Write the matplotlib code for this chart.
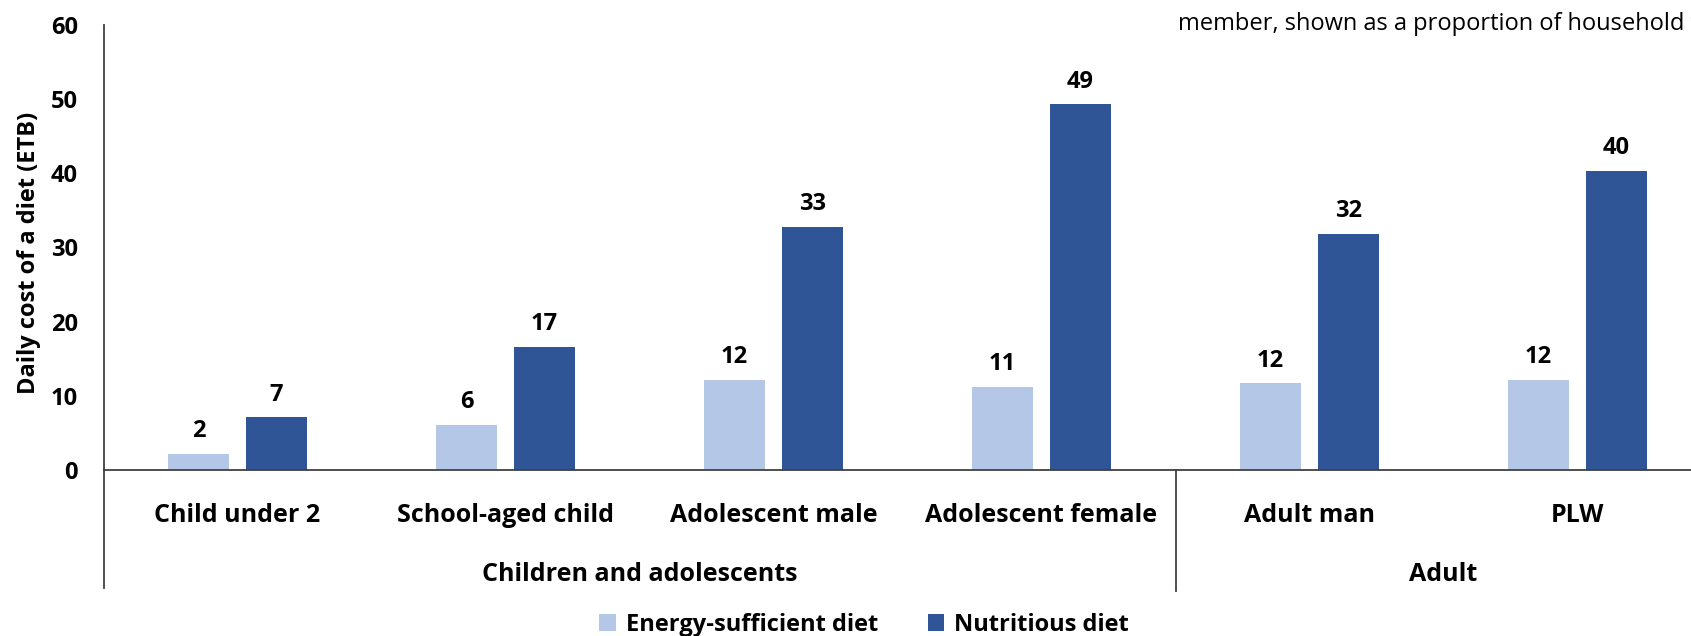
import matplotlib.pyplot as plt
import matplotlib.transforms as mtransforms
import numpy as np

categories = ['Child under 2', 'School-aged child', 'Adolescent male',
              'Adolescent female', 'Adult man', 'PLW']
groups = ['Children and adolescents', 'Adult']
group_sizes = [4, 2]
energy = [2.2, 6.1, 12.2, 11.2, 11.7, 12.2]
nutritious = [7.1, 16.6, 32.8, 49.3, 31.8, 40.3]
series_names = ['Energy-sufficient diet', 'Nutritious diet']
yticks = [0, 10, 20, 30, 40, 50, 60]

c_light = '#B4C7E7'
c_dark = '#2F5597'
line_c = '#404040'
fnt = 'Open Sans'

W, H = 1691, 636
fig = plt.figure(figsize=(W / 100, H / 100), dpi=100)
ax = fig.add_axes([103.5 / W, (H - 470) / H, 1608 / W, 445 / H])

x = np.arange(len(categories))
w = 0.225
off = 0.145
b1 = ax.bar(x - off, energy, w, color=c_light, label=series_names[0])
b2 = ax.bar(x + off, nutritious, w, color=c_dark, label=series_names[1])

for bars, vals in ((b1, energy), (b2, nutritious)):
    for r, v in zip(bars, vals):
        ax.annotate(f'{v:.0f}', (r.get_x() + r.get_width() / 2, v),
                    xytext=(0, 12), textcoords='offset points',
                    ha='center', va='baseline', fontsize=17,
                    fontweight='bold', family=fnt)

ax.set_xlim(-0.5, len(categories) - 0.5)
ax.set_ylim(0, 60)
ax.set_yticks(yticks)
ax.tick_params(axis='y', length=0, pad=18.5)
for t in ax.get_yticklabels():
    t.set_fontweight('bold')
    t.set_fontsize(17)
    t.set_family(fnt)
ax.set_xticks([])

for s in ['top', 'right']:
    ax.spines[s].set_visible(False)
for s in ['left', 'bottom']:
    ax.spines[s].set_color(line_c)
    ax.spines[s].set_linewidth(1.3)

trans = mtransforms.blended_transform_factory(ax.transData, ax.transAxes)
ylow = -(588 - 470) / 445

# category labels
for xi, name in zip(x, categories):
    ax.text(xi, -51.7 / 445, name, transform=trans, ha='center', va='baseline',
            fontsize=18, fontweight='bold', family=fnt)

# group labels and separators
start = 0
ax.plot([-0.5, -0.5], [0, ylow], transform=trans, color=line_c, lw=1.3,
        clip_on=False)
for g, n in zip(groups, group_sizes):
    mid = start + (n - 1) / 2
    ax.text(mid, -111 / 445, g, transform=trans, ha='center', va='baseline',
            fontsize=18, fontweight='bold', family=fnt)
    start += n
    if start < len(categories):
        ax.plot([start - 0.5, start - 0.5], [0, ylow - 0.007], transform=trans,
                color=line_c, lw=1.3, clip_on=False)

fig.text(29 / W, 1 - 253 / H, 'Daily cost of a diet (ETB)', rotation=90,
         ha='center', va='center', fontsize=17, fontweight='bold', family=fnt)

fig.legend(handles=[b1, b2], loc='center left',
           bbox_to_anchor=(578 / W, 11 / H),
           ncol=2, frameon=False, handlelength=0.7, handleheight=0.7,
           handletextpad=0.42, columnspacing=2.1, borderpad=0.4,
           prop={'family': fnt, 'weight': 'bold', 'size': 17})

fig.text(1178 / W, 1 - 30 / H,
         'member, shown as a proportion of household food expenditure',
         ha='left', va='baseline', fontsize=17, family=fnt)

fig.savefig('out.png', dpi=100)
